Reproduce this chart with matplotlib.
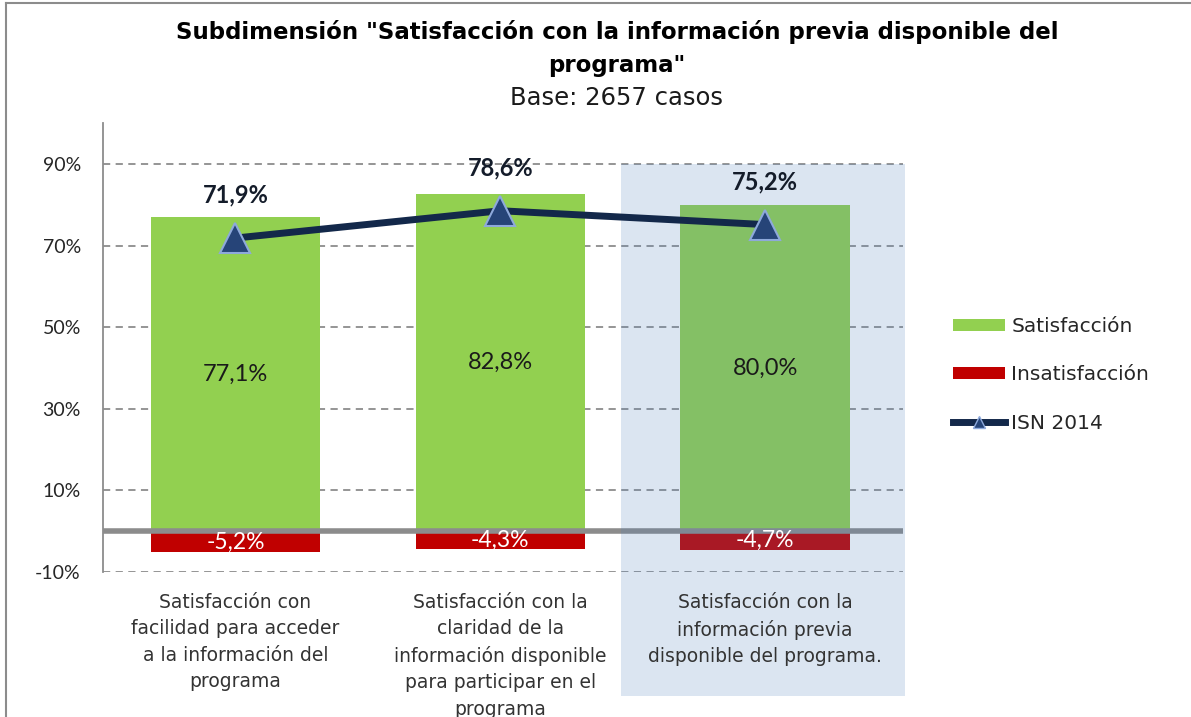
import matplotlib
matplotlib.use("Agg")
import matplotlib.pyplot as plt
from matplotlib.patches import Rectangle
from matplotlib.lines import Line2D
from matplotlib.patches import Patch

categories = [
    "Satisfacción con\nfacilidad para acceder\na la información del\nprograma",
    "Satisfacción con la\nclaridad de la\ninformación disponible\npara participar en el\nprograma",
    "Satisfacción con la\ninformación previa\ndisponible del programa.",
]
satisfaccion = [77.1, 82.8, 80.0]
insatisfaccion = [-5.2, -4.3, -4.7]
isn_2014 = [71.9, 78.6, 75.2]
yticks = [-10, 10, 30, 50, 70, 90]
ytick_labels = ["-10%", "10%", "30%", "50%", "70%", "90%"]

def fmt(v):
    return f"{v:.1f}".replace(".", ",") + "%"

FONT = "Lato"
GOTH = "DejaVu Sans"
fig = plt.figure(figsize=(11.91, 7.17), dpi=100)
ax = fig.add_axes([0.0865, 0.2022, 0.6715, 0.6256])

x = list(range(len(categories)))
ax.bar(x, satisfaccion, width=0.64, color="#92D050", zorder=2)
ax.bar(x, insatisfaccion, width=0.64, color="#C00000", zorder=2)
ax.plot(x, isn_2014, color="#13284A", lw=5, marker="^", markersize=22,
        markerfacecolor="#264478", markeredgecolor="#8EA9DB", markeredgewidth=1.5,
        zorder=5, solid_capstyle="round")

ax.set_xlim(-0.5, 2.52)
ax.set_ylim(-10, 100)
ax.set_yticks(yticks)
ax.set_yticklabels(ytick_labels, fontsize=14, family=FONT, color="#262626")
ax.tick_params(axis="y", length=0, pad=16)
ax.set_xticks([])
for yv in yticks:
    ax.axhline(yv, color="#8C8C8C", lw=1.3, ls=(0, (4, 3)), zorder=1)
ax.axhline(0, color="#8C8C8C", lw=4, zorder=3)
for s in ["top", "right", "bottom"]:
    ax.spines[s].set_visible(False)
ax.spines["left"].set_color("#8C8C8C")
ax.spines["left"].set_linewidth(1.3)

# highlight overlay on third category
ax.add_patch(Rectangle((1.455, -40.5), 1.075, 130.5, transform=ax.transData,
                       facecolor="#4F81BD", alpha=0.2, edgecolor="none",
                       clip_on=False, zorder=4))

for i in x:
    ax.text(i, satisfaccion[i] / 2, fmt(satisfaccion[i]), ha="center", va="center",
            fontsize=17, family=FONT, color="#1a1a1a", zorder=6)
    ax.text(i, insatisfaccion[i] / 2, fmt(insatisfaccion[i]), ha="center", va="center",
            fontsize=16.5, family=FONT, color="white", zorder=6)
    ax.annotate(fmt(isn_2014[i]), (i, isn_2014[i]), xytext=(0, 43),
                textcoords="offset pixels",
                ha="center", va="center", fontsize=17, fontweight="bold",
                family=FONT, color="#141c2a", zorder=6)
    ax.text(i, -15.2, categories[i], ha="center", va="top", fontsize=13.5,
            family=GOTH, color="#333333", linespacing=1.48, zorder=6)

fig.text(0.518, 0.955, 'Subdimensión "Satisfacción con la información previa disponible del',
         ha="center", va="center", fontsize=16.5, fontweight="bold", family=GOTH,
         color="#000000")
fig.text(0.518, 0.908, 'programa"',
         ha="center", va="center", fontsize=16.5, fontweight="bold", family=GOTH,
         color="#000000")
fig.text(0.518, 0.863, "Base: 2657 casos", ha="center", va="center", fontsize=17.5,
         family=GOTH, color="#1a1a1a")

handles = [Patch(facecolor="#92D050", edgecolor="none"),
           Patch(facecolor="#C00000", edgecolor="none"),
           Line2D([0], [0], color="#13284A", lw=5, marker="^", markersize=9,
                  markerfacecolor="#264478", markeredgecolor="#8EA9DB")]
leg = fig.legend(handles, ["Satisfacción", "Insatisfacción", "ISN 2014"],
                 loc="center left", bbox_to_anchor=(0.785, 0.477), frameon=False,
                 prop={"family": GOTH, "size": 14.5}, labelspacing=1.45,
                 handlelength=2.6, handleheight=0.55, handletextpad=0.3)
for t in leg.get_texts():
    t.set_color("#262626")

# outer frame (left and top)
fig.add_artist(Line2D([0.005, 0.005], [0, 0.996], transform=fig.transFigure, color="#8C8C8C", lw=1.5))
fig.add_artist(Line2D([0.005, 1], [0.996, 0.996], transform=fig.transFigure, color="#8C8C8C", lw=1.5))

fig.savefig("out.png", dpi=100)
